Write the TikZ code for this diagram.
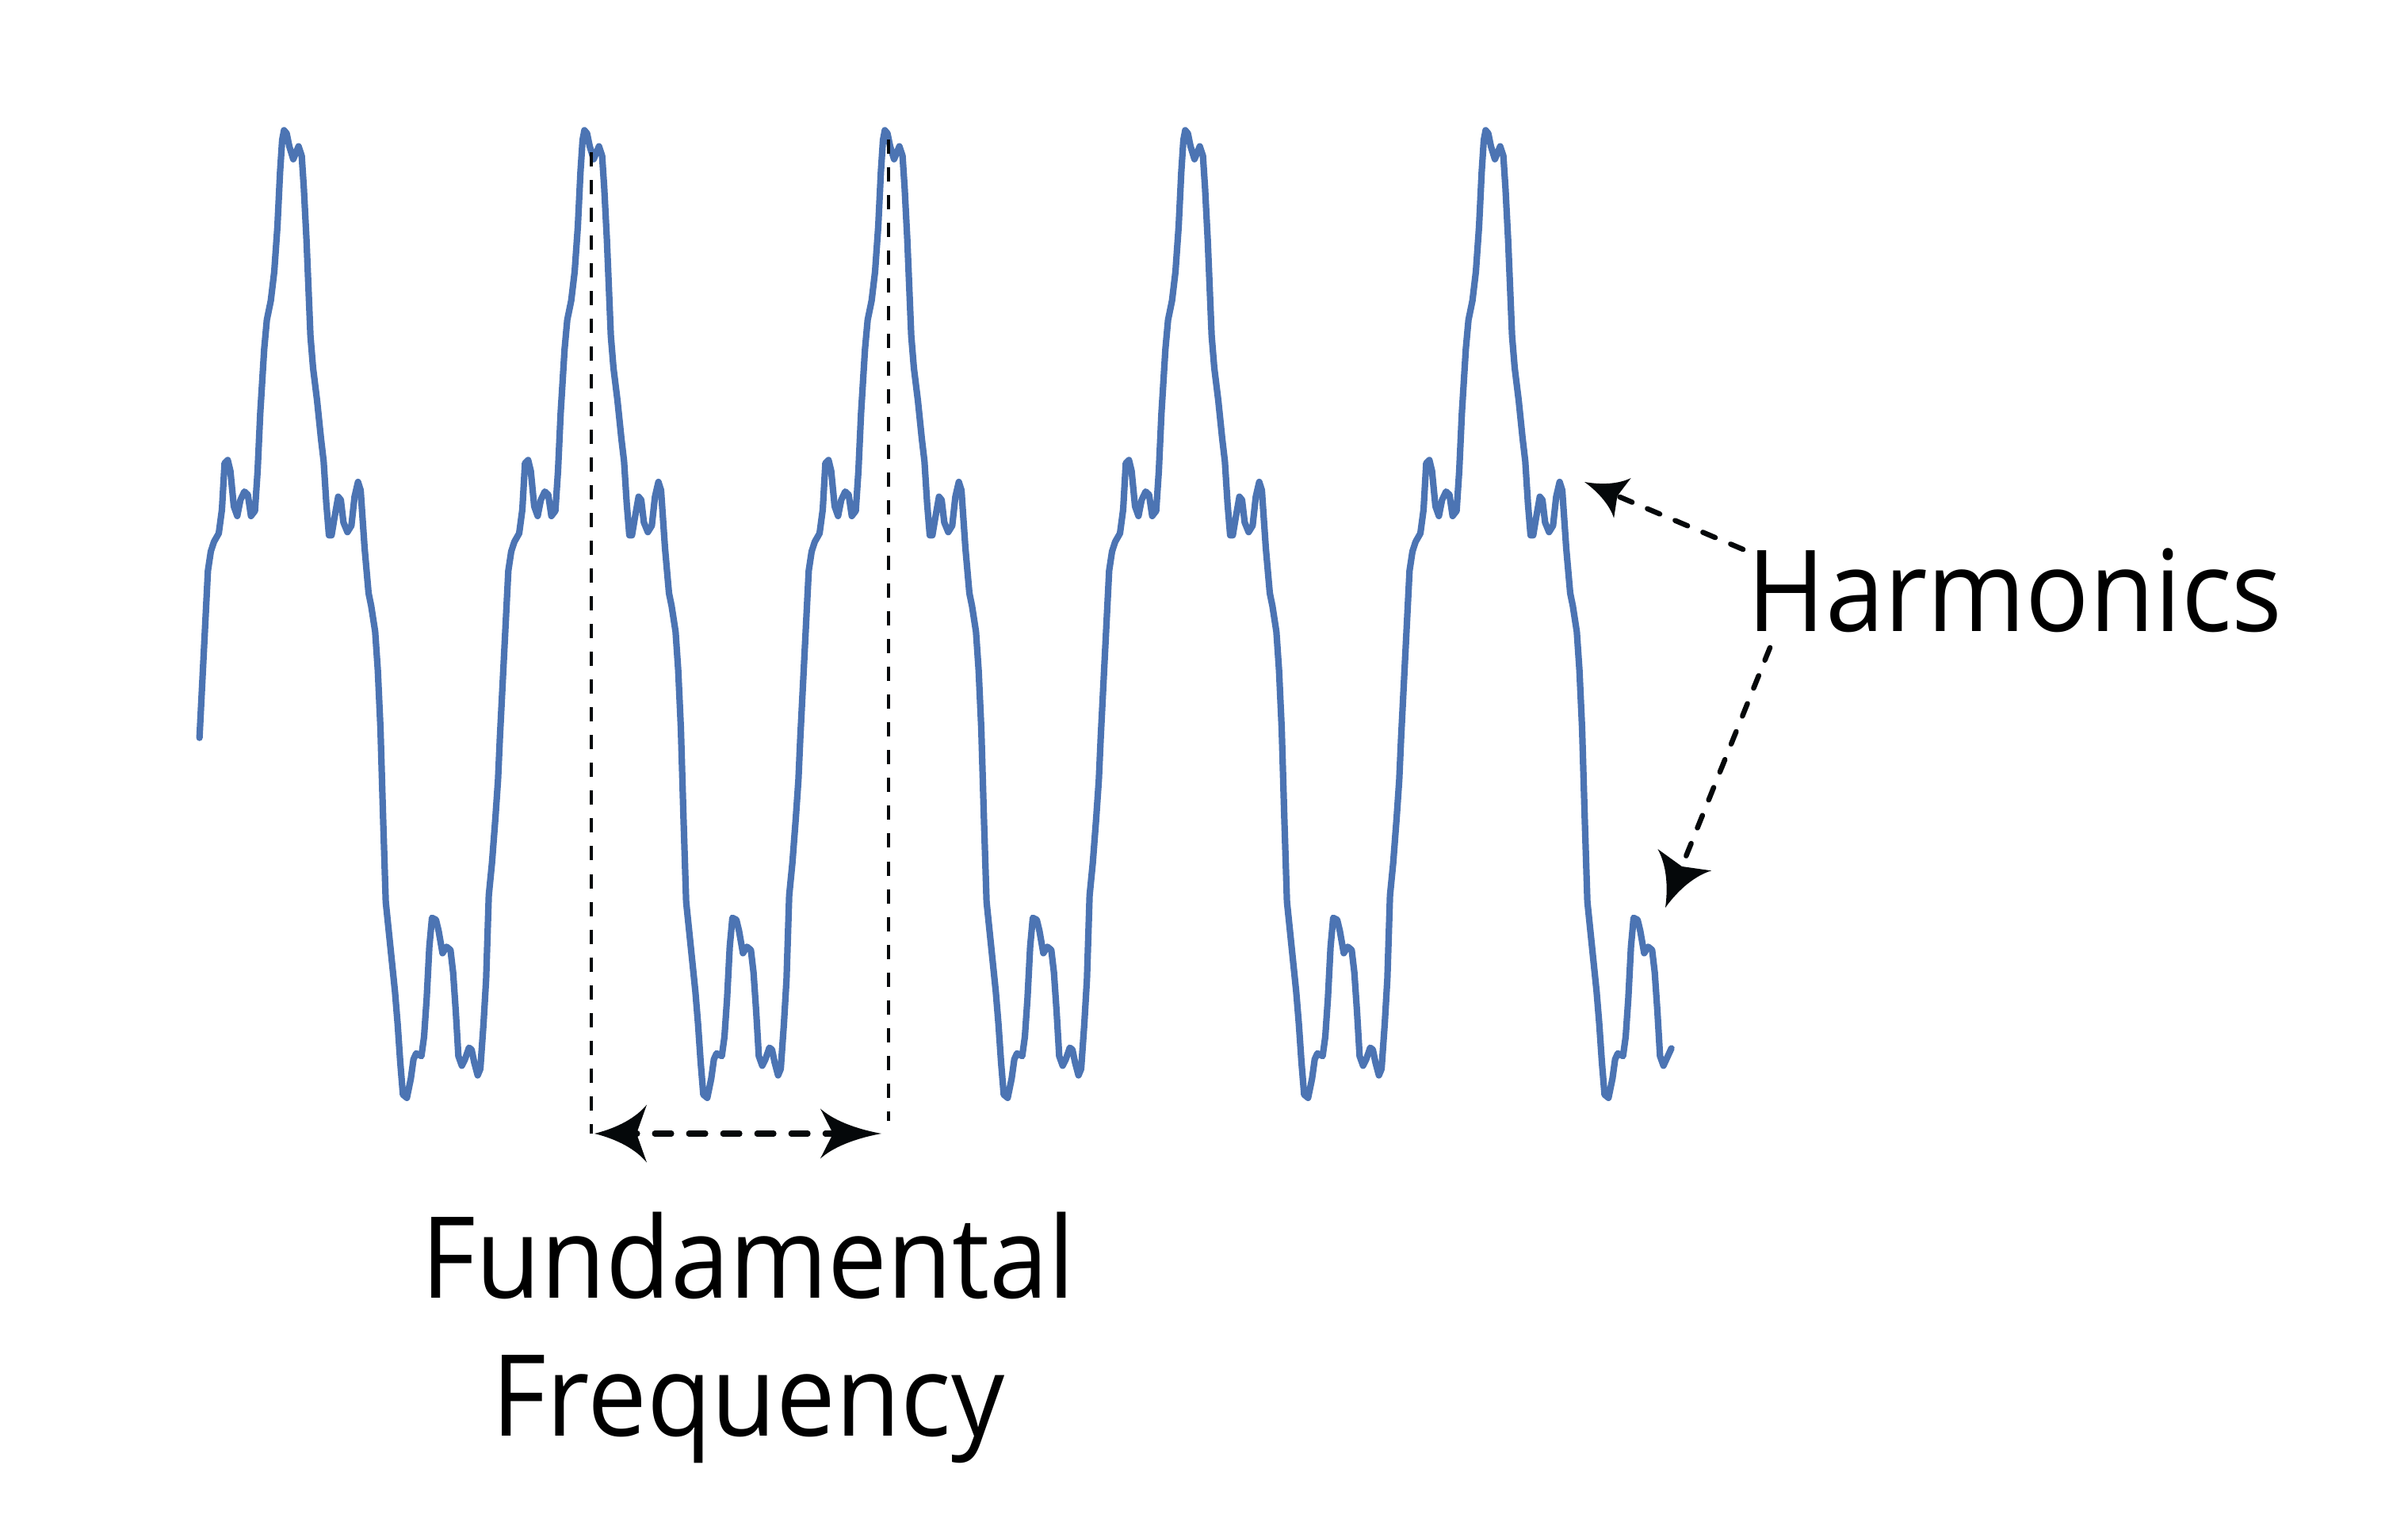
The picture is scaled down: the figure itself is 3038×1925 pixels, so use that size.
\documentclass[tikz,border=0pt]{standalone}
\usepackage{fontspec}
\setmainfont{Open Sans}[FakeStretch=0.935]
\usetikzlibrary{arrows.meta}
\pgfdeclarearrow{
  name = Swept,
  defaults = {length = 20pt, width = 20pt, inset = 4pt},
  setup code = {
    \pgfarrowssettipend{0pt}
    \pgfarrowssetlineend{-.5\pgfarrowlength}
    \pgfarrowssetbackend{-\pgfarrowlength}
    \pgfarrowsupperhullpoint{-\pgfarrowlength}{.5\pgfarrowwidth}
    \pgfarrowsupperhullpoint{0pt}{0pt}
    \pgfarrowssavethe\pgfarrowlength
    \pgfarrowssavethe\pgfarrowwidth
    \pgfarrowssavethe\pgfarrowinset
  },
  drawing code = {
    \pgfpathmoveto{\pgfqpoint{0pt}{0pt}}
    \pgfpathcurveto{\pgfqpoint{-.45\pgfarrowlength}{.1\pgfarrowwidth}}{\pgfqpoint{-.8\pgfarrowlength}{.28\pgfarrowwidth}}{\pgfqpoint{-\pgfarrowlength}{.5\pgfarrowwidth}}
    \pgfpathlineto{\pgfqpoint{\dimexpr\pgfarrowinset-\pgfarrowlength\relax}{0pt}}
    \pgfpathlineto{\pgfqpoint{-\pgfarrowlength}{-.5\pgfarrowwidth}}
    \pgfpathcurveto{\pgfqpoint{-.8\pgfarrowlength}{-.28\pgfarrowwidth}}{\pgfqpoint{-.45\pgfarrowlength}{-.1\pgfarrowwidth}}{\pgfqpoint{0pt}{0pt}}
    \pgfpathclose
    \pgfusepathqfill
  },
  parameters = {\the\pgfarrowlength,\the\pgfarrowwidth,\the\pgfarrowinset},
}
\definecolor{waveblue}{RGB}{76,116,179}
\definecolor{inkblack}{RGB}{5,8,10}
\newcommand\wavepts{65/975, 97/715, 108/685, 120/670, 138/657, 150/620, 160/548, 172/543, 182/560, 195/615, 208/630, 220/605, 235/592, 248/597, 260/630, 275/622, 285/560, 295/470, 310/370, 320/325, 335/295, 348/250, 360/180, 370/95, 378/45, 385/30, 395/35, 405/55, 420/75, 430/65, 440/55, 452/70, 460/120, 470/200, 480/300, 485/350, 495/400, 510/450, 525/510, 535/545, 545/610, 555/660, 565/660, 575/635, 590/600, 600/605, 610/640, 625/655, 640/645, 652/600, 665/577, 675/590, 690/680, 705/750, 715/770, 730/810, 740/870, 750/960, 760/1100, 770/1230, 780/1270, 790/1310, 805/1370, 815/1420, 825/1480, 835/1530, 850/1535, 865/1505, 875/1475, 885/1466, 905/1470, 915/1440, 925/1380, 935/1300, 945/1255, 960/1258, 970/1275, 985/1310, 1000/1300, 1015/1305, 1025/1340, 1035/1400, 1045/1470, 1058/1485, 1070/1475, 1085/1457, 1095/1460, 1105/1480, 1118/1500, 1128/1490, 1140/1420, 1150/1350, 1160/1220, 1172/1170, 1185/1100, 1195/1040}
\newcommand\lastpts{65/975, 97/715, 108/685, 120/670, 138/657, 150/620, 160/548, 172/543, 182/560, 195/615, 208/630, 220/605, 235/592, 248/597, 260/630, 275/622, 285/560, 295/470, 310/370, 320/325, 335/295, 348/250, 360/180, 370/95, 378/45, 385/30, 395/35, 405/55, 420/75, 430/65, 440/55, 452/70, 460/120, 470/200, 480/300, 485/350, 495/400, 510/450, 525/510, 535/545, 545/610, 555/660, 565/660, 575/635, 590/600, 600/605, 610/640, 625/655, 640/645, 652/600, 665/577, 675/590, 690/680, 705/750, 715/770, 730/810, 740/870, 750/960, 760/1100, 770/1230, 780/1270, 790/1310, 805/1370, 815/1420, 825/1480, 835/1530, 850/1535, 865/1505, 875/1475, 885/1466, 905/1470, 915/1440, 925/1380, 935/1300, 945/1255, 960/1258, 970/1275, 985/1310, 1000/1300, 1015/1305, 1025/1340, 1035/1400, 1045/1470, 1058/1485, 1088/1458}
\begin{document}
\begin{tikzpicture}[x=0.01cm, y=-0.01cm,
  wave/.style={draw=waveblue, line width=0.082cm, line join=round, line cap=round},
  guide/.style={draw=inkblack, line width=0.04cm, dash pattern=on 0.18cm off 0.17cm},
  span/.style={draw=inkblack, line width=0.07cm, line cap=round, dash pattern=on 0.21cm off 0.22cm},
  pointer/.style={draw=inkblack, line width=0.065cm, line cap=round, dash pattern=on 0.17cm off 0.21cm},
  lab/.style={inner sep=0pt, font=\fontsize{40.6pt}{49.6pt}\selectfont, text=black}]
\useasboundingbox (0,0) rectangle (3038,1925);
% waveform
\draw[wave] ({230+65/3},{140+0.811*975})
  \foreach \k in {0,1,2,3} { \foreach \u/\v in \wavepts { -- ({230+379*\k+\u/3},{140+0.811*\v}) } }
  \foreach \u/\v in \lastpts { -- ({230+1516+\u/3},{140+0.811*\v}) };
% period markers
\coordinate (gLtop) at (746,192);
\coordinate (gLbot) at (746,1430);
\coordinate (gRtop) at (1121,176);
\coordinate (gRbot) at (1121,1414);
\coordinate (spanL) at (750,1430);
\coordinate (spanR) at (1112,1430);
\draw[guide] (gLtop) -- (gLbot);
\draw[guide] (gRtop) -- (gRbot);
\draw[span, {Swept[length=0.66cm, width=0.73cm, inset=0.13cm]}-{Swept[length=0.77cm, width=0.63cm, inset=0.16cm]}] (spanL) -- (spanR);
% labels
\node[lab, anchor=base] (harm) at (2542,797) {Harmonics};
\node[lab, align=center, anchor=north] (fund) at (944,1528) {Fundamental\\Frequency};
% harmonic pointers
\coordinate (hA) at (2199,693);
\coordinate (hAtip) at (1999,608);
\coordinate (hB) at (2233,817);
\coordinate (hBtip) at (2101,1145);
\draw[pointer, -{Swept[length=0.52cm, width=0.55cm, inset=0.07cm]}] (hA) -- (hAtip);
\draw[pointer, -{Swept[length=0.65cm, width=0.73cm, inset=0.09cm]}] (hB) -- (hBtip);
\end{tikzpicture}
\end{document}
